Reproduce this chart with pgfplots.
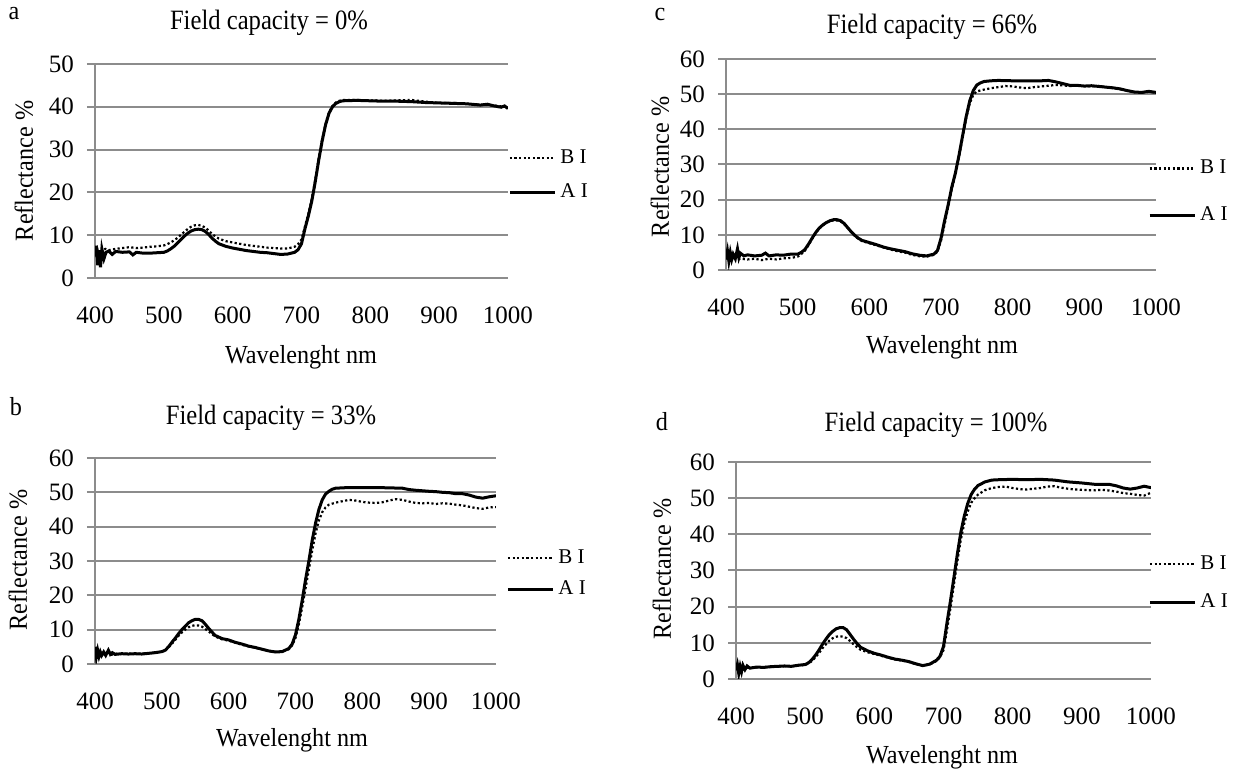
\documentclass[border=0pt]{standalone}
\usepackage{pgfplots}
\pgfplotsset{compat=1.18}
\usepackage{fontspec}
\setmainfont{Liberation Serif}
\newfontfamily\titlefam[FakeStretch=0.88]{Liberation Serif}
\newfontfamily\labelfam[FakeStretch=0.93]{Liberation Serif}
\definecolor{gridgray}{RGB}{140,140,140}
\newcommand{\tickfont}{\fontsize{12.5}{15}\selectfont}
\newcommand{\titfont}{\titlefam\fontsize{14}{17}\selectfont}
\newcommand{\labfont}{\labelfam\fontsize{13}{16}\selectfont}
\newcommand{\legfont}{\fontsize{10.5}{12.5}\selectfont}
\pgfplotsset{
  panel/.style={
    scale only axis,
    xmin=400, xmax=1000, ymin=0,
    xtick={400,500,...,1000},
    axis x line=bottom, axis y line=left,
    axis line style={draw=gridgray, line width=1pt, -},
    ymajorgrids,
    grid style={draw=gridgray, line width=1pt},
    xtick style={draw=none},
    ytick style={draw=gridgray, line width=1pt},
    tick align=outside, major tick length=4pt,
    ticklabel style={font=\tickfont},
    /pgf/number format/assume math mode=true,
    /pgf/number format/1000 sep={},
    xticklabel style={yshift=-7pt},
    yticklabel style={xshift=-3pt},
    legend cell align=left,
    legend image code/.code={\draw[#1] (0pt,0pt) -- (22.5pt,0pt);},
  },
  bi/.style={black, line width=1.1pt, dash pattern=on 1.1pt off 1.2pt},
  ai/.style={black, line width=1.5pt},
}
\begin{document}
\begin{tikzpicture}
\useasboundingbox (0,0) rectangle (616.5pt,384.5pt);

% ---------------- panel a ----------------
\begin{axis}[panel, at={(47.5pt,245.5pt)}, anchor=south west,
  width=206.5pt, height=107pt, ymax=50, ytick={0,10,...,50},
  legend style={at={(axis description cs:1.0,0.481)}, anchor=west,
    draw=none, fill=none, inner sep=0pt, font=\legfont, row sep=4.9pt}]
\addplot[bi] coordinates {
(400,6.0)(403,7.0)(406,5.0)(410,6.5)(415,6.8)(420,6.5)(430,6.8)(440,7.0)(450,7.2)(460,7.0)
(470,7.1)(480,7.3)(490,7.4)(500,7.6)(505,7.9)(510,8.3)(515,8.8)(520,9.4)(525,10.1)(530,10.8)
(535,11.5)(540,12.0)(545,12.3)(550,12.4)(555,12.2)(560,11.8)(565,11.1)(570,10.3)(575,9.7)(580,9.2)
(590,8.6)(600,8.3)(610,8.0)(620,7.7)(630,7.5)(640,7.3)(650,7.1)(660,7.0)(670,6.9)(680,6.9)
(690,7.3)(695,7.9)(700,9.0)(705,12.0)(710,15.0)(715,18.5)(720,23.0)(725,28.0)(730,32.3)(735,36.0)
(740,38.7)(745,40.2)(750,41.0)(755,41.4)(760,41.6)(780,41.6)(800,41.5)(820,41.4)(840,41.5)(860,41.6)
(880,41.2)(900,40.9)(920,40.9)(940,40.7)(960,40.5)(980,40.3)(1000,39.9)};
\addlegendentry{B I}
\addplot[ai] coordinates {
(400,5.0)(402,7.5)(404,3.0)(406,6.5)(408,2.5)(410,6.8)(413,4.5)(416,6.0)(420,6.3)(425,5.5)
(430,6.2)(440,6.0)(450,6.1)(455,5.4)(460,6.0)(470,5.8)(480,5.8)(490,5.9)(500,6.0)(505,6.3)
(510,6.8)(515,7.4)(520,8.2)(525,9.0)(530,9.8)(535,10.5)(540,11.0)(545,11.3)(550,11.4)(555,11.3)
(560,10.9)(565,10.2)(570,9.3)(575,8.6)(580,8.0)(590,7.4)(600,7.0)(610,6.7)(620,6.4)(630,6.2)
(640,6.0)(650,5.9)(660,5.7)(670,5.5)(680,5.6)(690,6.0)(695,6.6)(700,8.0)(705,11.5)(710,14.5)
(715,18.0)(720,22.5)(725,27.5)(730,32.0)(735,35.8)(740,38.5)(745,40.0)(750,40.8)(755,41.2)(760,41.4)
(780,41.5)(800,41.4)(820,41.3)(840,41.3)(860,41.2)(880,41.0)(900,40.9)(920,40.8)(940,40.7)(960,40.4)
(970,40.6)(980,40.2)(990,39.9)(995,40.2)(1000,39.6)};
\addlegendentry{A I}
\end{axis}

% ---------------- panel c ----------------
\begin{axis}[panel, at={(363pt,249.5pt)}, anchor=south west,
  width=215pt, height=105.5pt, ymax=60, ytick={0,10,...,60},
  legend style={at={(axis description cs:0.981,0.370)}, anchor=west,
    draw=none, fill=none, inner sep=0pt, font=\legfont, row sep=10.9pt}]
\addplot[bi] coordinates {
(400,3.0)(403,4.5)(406,2.5)(410,3.5)(415,3.0)(420,3.2)(430,3.0)(440,3.2)(450,2.8)(460,3.2)
(470,3.0)(480,3.3)(490,3.4)(500,3.8)(505,4.5)(510,5.5)(515,7.0)(520,8.8)(525,10.4)(530,11.8)
(535,12.7)(540,13.4)(545,13.9)(550,14.1)(555,14.1)(560,13.8)(565,13.0)(570,11.9)(575,10.7)(580,9.6)
(585,8.8)(590,8.2)(600,7.6)(610,7.0)(620,6.4)(630,5.8)(640,5.3)(650,4.9)(660,4.3)(670,3.9)
(680,3.8)(690,4.3)(695,5.2)(700,8.3)(705,13.0)(710,18.0)(715,23.0)(720,27.0)(725,32.0)(730,37.5)
(735,43.0)(740,47.3)(745,49.8)(750,50.8)(760,51.3)(770,51.7)(780,52.0)(790,52.3)(800,52.2)(810,51.9)
(820,51.7)(830,52.0)(840,52.2)(850,52.4)(860,52.6)(870,52.5)(880,52.3)(890,52.4)(900,52.3)(910,52.2)
(920,52.3)(930,52.0)(940,51.7)(950,51.4)(960,51.0)(970,50.6)(980,50.4)(990,50.7)(1000,50.4)};
\addlegendentry{B I}
\addplot[ai] coordinates {
(400,3.5)(402,5.5)(404,2.5)(406,5.0)(408,3.0)(410,4.5)(413,3.2)(416,6.0)(418,3.5)(420,4.8)
(425,4.0)(430,4.3)(440,4.0)(450,4.2)(455,4.8)(460,4.0)(470,4.3)(480,4.2)(490,4.5)(500,4.5)
(505,5.0)(510,5.8)(515,7.3)(520,9.0)(525,10.6)(530,11.9)(535,12.8)(540,13.5)(545,14.0)(550,14.3)
(555,14.3)(560,14.0)(565,13.2)(570,12.0)(575,10.8)(580,9.8)(585,9.0)(590,8.4)(600,7.8)(610,7.2)
(620,6.5)(630,6.0)(640,5.6)(650,5.2)(660,4.6)(670,4.2)(680,4.0)(690,4.5)(695,5.5)(700,9.0)
(705,14.0)(710,18.5)(715,23.5)(720,27.5)(725,32.5)(730,38.0)(735,43.5)(740,48.0)(745,51.0)(750,52.6)
(755,53.2)(760,53.6)(770,53.8)(780,53.9)(800,53.8)(820,53.8)(840,53.8)(850,53.9)(860,53.5)(870,53.0)
(880,52.5)(890,52.5)(900,52.3)(910,52.4)(920,52.2)(930,52.0)(940,51.8)(950,51.5)(960,51.0)(970,50.6)
(980,50.5)(990,50.8)(1000,50.5)};
\addlegendentry{A I}
\end{axis}

% ---------------- panel b ----------------
\begin{axis}[panel, at={(47.5pt,52.5pt)}, anchor=south west,
  width=200.5pt, height=103pt, ymax=60, ytick={0,10,...,60},
  legend style={at={(axis description cs:1.025,0.439)}, anchor=west,
    draw=none, fill=none, inner sep=0pt, font=\legfont, row sep=3.4pt}]
\addplot[bi] coordinates {
(400,3.5)(403,2.2)(406,3.2)(410,2.6)(415,3.0)(420,3.5)(425,2.7)(430,3.0)(440,2.9)(450,3.0)
(460,2.9)(470,3.0)(480,3.1)(490,3.3)(500,3.6)(505,4.0)(510,4.8)(515,5.9)(520,7.0)(525,8.2)
(530,9.2)(535,10.0)(540,10.7)(545,11.1)(550,11.3)(555,11.2)(560,10.9)(565,10.2)(570,9.5)(575,8.7)
(580,8.0)(590,7.2)(600,6.8)(610,6.2)(620,5.6)(630,5.1)(640,4.7)(650,4.3)(660,3.8)(670,3.5)
(680,3.6)(690,4.3)(695,5.4)(700,7.6)(705,11.5)(710,16.5)(715,22.0)(720,27.5)(725,33.0)(730,38.0)
(735,41.8)(740,44.2)(745,45.6)(750,46.4)(760,47.0)(770,47.4)(780,47.8)(790,47.6)(800,47.2)(810,47.0)
(820,46.9)(830,47.1)(840,47.6)(850,48.0)(860,47.8)(870,47.3)(880,46.9)(890,46.8)(900,46.9)(910,46.6)
(920,46.8)(930,46.7)(940,46.4)(950,46.2)(960,45.8)(970,45.4)(980,45.2)(990,45.6)(1000,45.7)};
\addlegendentry{B I}
\addplot[ai] coordinates {
(400,5.0)(402,2.0)(404,4.0)(406,2.2)(408,3.5)(410,2.5)(413,3.5)(416,2.5)(420,4.0)(423,2.8)
(426,3.3)(430,2.8)(440,3.0)(450,2.9)(460,3.0)(470,2.9)(480,3.1)(490,3.3)(500,3.6)(505,4.0)
(510,5.0)(515,6.3)(520,7.5)(525,8.8)(530,10.0)(535,11.0)(540,12.0)(545,12.6)(550,13.0)(555,13.0)
(560,12.6)(565,11.6)(570,10.4)(575,9.3)(580,8.3)(590,7.4)(600,7.0)(610,6.3)(620,5.8)(630,5.2)
(640,4.8)(650,4.3)(660,3.8)(670,3.5)(680,3.6)(690,4.5)(695,5.8)(700,8.5)(705,13.0)(710,18.5)
(715,24.5)(720,30.0)(725,36.0)(730,41.0)(735,45.0)(740,47.8)(745,49.5)(750,50.3)(755,50.9)(760,51.2)
(780,51.4)(800,51.4)(820,51.4)(840,51.3)(860,51.2)(870,50.8)(880,50.6)(900,50.3)(910,50.2)(920,50.0)
(930,49.9)(940,49.6)(950,49.6)(960,49.2)(970,48.6)(980,48.3)(990,48.7)(1000,49.0)};
\addlegendentry{A I}
\end{axis}

% ---------------- panel d ----------------
\begin{axis}[panel, at={(368pt,45pt)}, anchor=south west,
  width=207.5pt, height=108.5pt, ymax=60, ytick={0,10,...,60},
  legend style={at={(axis description cs:0.993,0.442)}, anchor=west,
    draw=none, fill=none, inner sep=0pt, font=\legfont, row sep=6.9pt}]
\addplot[bi] coordinates {
(400,3.0)(403,2.0)(406,3.5)(410,2.6)(415,3.2)(420,3.0)(430,3.2)(440,3.3)(450,3.3)(460,3.4)
(470,3.5)(480,3.5)(490,3.7)(500,3.9)(505,4.3)(510,5.0)(515,6.0)(520,7.2)(525,8.5)(530,9.6)
(535,10.6)(540,11.3)(545,11.7)(550,11.8)(555,11.7)(560,11.3)(565,10.5)(570,9.6)(575,8.8)(580,8.1)
(590,7.4)(600,6.9)(610,6.4)(620,5.9)(630,5.4)(640,5.1)(650,4.7)(660,4.1)(670,3.7)(680,4.0)
(690,5.0)(695,6.0)(700,8.0)(705,13.5)(710,19.5)(715,26.0)(720,32.5)(725,38.5)(730,43.0)(735,46.3)
(740,48.7)(745,50.0)(750,51.0)(760,52.2)(770,52.8)(780,53.1)(790,53.2)(800,52.8)(810,52.5)(820,52.4)
(830,52.6)(840,52.8)(850,53.2)(860,53.3)(870,52.9)(880,52.6)(890,52.4)(900,52.3)(910,52.2)(920,52.2)
(930,52.3)(940,52.1)(950,51.8)(960,51.4)(970,51.2)(980,50.9)(990,50.7)(1000,51.5)};
\addlegendentry{B I}
\addplot[ai] coordinates {
(400,2.5)(402,4.0)(404,1.5)(406,3.5)(408,2.0)(410,3.8)(413,2.6)(416,3.6)(420,3.0)(430,3.3)
(440,3.2)(450,3.4)(460,3.5)(470,3.6)(480,3.5)(490,3.8)(500,4.0)(505,4.5)(510,5.4)(515,6.6)
(520,8.0)(525,9.6)(530,11.0)(535,12.3)(540,13.2)(545,13.9)(550,14.2)(555,14.2)(560,13.6)(565,12.3)
(570,11.0)(575,9.8)(580,8.8)(590,7.8)(600,7.1)(610,6.6)(620,6.0)(630,5.5)(640,5.2)(650,4.8)
(660,4.2)(670,3.7)(680,4.1)(690,5.2)(695,6.3)(700,9.0)(705,15.5)(710,21.5)(715,28.0)(720,34.5)
(725,40.5)(730,45.0)(735,48.5)(740,51.0)(745,52.5)(750,53.5)(760,54.5)(770,55.0)(780,55.1)(800,55.2)
(820,55.1)(840,55.2)(860,55.0)(880,54.5)(900,54.2)(920,53.8)(940,53.8)(950,53.4)(960,52.8)(970,52.5)
(980,52.8)(990,53.3)(1000,52.9)};
\addlegendentry{A I}
\end{axis}

% ---------------- texts ----------------
\node[font=\titfont] at (134.5pt,373pt) {Field capacity = 0\%};
\node[font=\titfont] at (466pt,371pt) {Field capacity = 66\%};
\node[font=\titfont] at (135.5pt,175.5pt) {Field capacity = 33\%};
\node[font=\titfont] at (468pt,172pt) {Field capacity = 100\%};
\node[font=\labfont] at (150.5pt,206pt) {Wavelenght nm};
\node[font=\labfont] at (471pt,211pt) {Wavelenght nm};
\node[font=\labfont] at (146pt,14.5pt) {Wavelenght nm};
\node[font=\labfont] at (471pt,6pt) {Wavelenght nm};
\node[font=\labfont, rotate=90] at (12pt,299pt) {Reflectance \%};
\node[font=\labfont, rotate=90] at (330pt,301pt) {Reflectance \%};
\node[font=\labfont, rotate=90] at (9pt,104.5pt) {Reflectance \%};
\node[font=\labfont, rotate=90] at (331pt,100pt) {Reflectance \%};
\node[font=\labfont] at (7pt,377.5pt) {a};
\node[font=\labfont] at (330pt,377pt) {c};
\node[font=\labfont] at (8pt,181pt) {b};
\node[font=\labfont] at (331pt,173.5pt) {d};
\end{tikzpicture}
\end{document}
